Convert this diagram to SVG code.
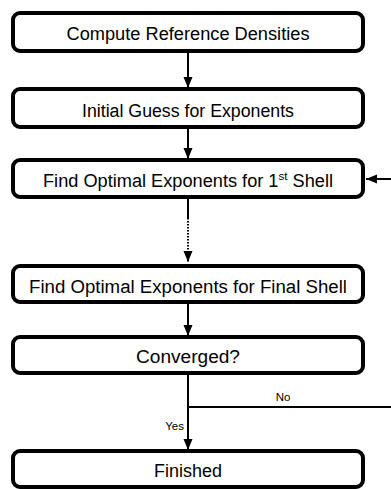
<svg xmlns="http://www.w3.org/2000/svg" width="391" height="489" viewBox="0 0 391 489">
<defs>
<marker id="ah" markerUnits="userSpaceOnUse" markerWidth="12" markerHeight="12" viewBox="0 0 12 12" refX="11" refY="6" orient="auto">
<path d="M0,1.5 L11,6 L0,10.5 Z" fill="#000"/>
</marker>
</defs>
<style>
.box{fill:#fff;stroke:#000;stroke-width:4}
.t{font-family:"Liberation Sans",Arial,sans-serif;font-size:18px;fill:#000;text-anchor:middle}
.s{font-family:"Liberation Sans",Arial,sans-serif;font-size:11.5px;fill:#000}
.c{fill:none;stroke:#000;stroke-width:2}
</style>
<rect width="391" height="489" fill="#fff"/>
<g id="connectors">
<path class="c" d="M188,51 V88" stroke-width="3" marker-end="url(#ah)"/>
<path class="c" d="M188,127 V159" marker-end="url(#ah)"/>
<path class="c" d="M188,197 V218"/>
<path class="c" d="M188,218 V262" stroke-dasharray="1.5,1.5" marker-end="url(#ah)" stroke-width="2"/>
<path class="c" d="M188,302 V336" marker-end="url(#ah)"/>
<path class="c" d="M188,373 V450" marker-end="url(#ah)"/>
<path class="c" d="M188,407 H396 V179 H366" marker-end="url(#ah)"/>
<text class="s" x="283" y="401" text-anchor="middle">No</text>
<text class="s" x="184" y="430" text-anchor="end">Yes</text>
</g>
<g id="n1"><rect class="box" x="13" y="13" width="350" height="38" rx="7"/><text class="t" x="188" y="39.5" textLength="243" lengthAdjust="spacingAndGlyphs">Compute Reference Densities</text></g>
<g id="n2"><rect class="box" x="13" y="89" width="350" height="38" rx="7"/><text class="t" x="188" y="116.5" textLength="212" lengthAdjust="spacingAndGlyphs">Initial Guess for Exponents</text></g>
<g id="n3"><rect class="box" x="13" y="160" width="350" height="37" rx="7"/><text class="t" x="188" y="186.5" textLength="290" lengthAdjust="spacingAndGlyphs">Find Optimal Exponents for 1<tspan font-size="11.5" dy="-6.5">st</tspan><tspan dy="6.5"> Shell</tspan></text></g>
<g id="n4"><rect class="box" x="13" y="266" width="350" height="36" rx="7"/><text class="t" x="188" y="292.5" textLength="318" lengthAdjust="spacingAndGlyphs">Find Optimal Exponents for Final Shell</text></g>
<g id="n5"><rect class="box" x="13" y="337" width="350" height="36" rx="7"/><text class="t" x="188" y="362.5" textLength="104" lengthAdjust="spacingAndGlyphs">Converged?</text></g>
<g id="n6"><rect class="box" x="13" y="451" width="350" height="36" rx="7"/><text class="t" x="188" y="476.5" textLength="68" lengthAdjust="spacingAndGlyphs">Finished</text></g>
</svg>
